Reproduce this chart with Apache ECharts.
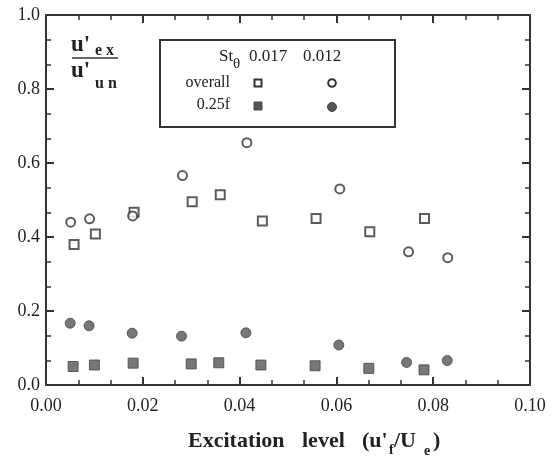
<!DOCTYPE html>
<html>
<head>
<meta charset="utf-8">
<script src="https://cdn.jsdelivr.net/npm/echarts@6/dist/echarts.min.js"></script>
<style>
  html, body { margin: 0; padding: 0; background: #fff; }
  #chart { width: 554px; height: 458px; }
</style>
</head>
<body>
<div id="chart"></div>
<script>
// values
const xTicks = [0, 0.02, 0.04, 0.06, 0.08, 0.10];
const yTicks = [0, 0.2, 0.4, 0.6, 0.8, 1.0];

const overall017 = [
  [0.0058, 0.380], [0.0102, 0.408], [0.0182, 0.467], [0.0302, 0.495], [0.0360, 0.514],
  [0.0447, 0.443], [0.0558, 0.450], [0.0669, 0.414], [0.0782, 0.450]
];
const overall012 = [
  [0.0051, 0.440], [0.0090, 0.449], [0.0179, 0.457], [0.0282, 0.566], [0.0415, 0.655],
  [0.0607, 0.530], [0.0749, 0.360], [0.0830, 0.344]
];
const quarter017 = [
  [0.0056, 0.050], [0.0100, 0.054], [0.0180, 0.059], [0.0300, 0.057], [0.0357, 0.060],
  [0.0444, 0.054], [0.0556, 0.052], [0.0667, 0.045], [0.0781, 0.041]
];
const quarter012 = [
  [0.0050, 0.167], [0.0089, 0.160], [0.0178, 0.140], [0.0280, 0.132], [0.0413, 0.141],
  [0.0605, 0.108], [0.0745, 0.061], [0.0829, 0.066]
];

const serif = '"Liberation Serif", "DejaVu Serif", serif';
const ink = '#333';
const fillGray = '#555';

const chart = echarts.init(document.getElementById('chart'));

function axisBase(show) {
  return {
    type: 'value',
    min: 0,
    interval: 0.02,
    axisLine: { show: true, onZero: false, lineStyle: { color: ink, width: 2 } },
    axisTick: { show: true, inside: true, length: 8, lineStyle: { color: ink, width: 2 } },
    minorTick: { show: true, splitNumber: 3, length: 5, lineStyle: { color: ink, width: 1.5 } },
    splitLine: { show: false },
    axisLabel: { show: show }
  };
}

const xBottom = Object.assign(axisBase(true), {
  max: 0.1,
  position: 'bottom',
  axisLabel: {
    show: true, fontFamily: serif, fontSize: 18, color: '#222', margin: 12,
    formatter: v => v.toFixed(2)
  }
});
const xTop = Object.assign(axisBase(false), { max: 0.1, position: 'top' });

const yLeft = Object.assign(axisBase(true), {
  max: 1.0,
  interval: 0.2,
  position: 'left',
  axisLabel: {
    show: true, fontFamily: serif, fontSize: 18, color: '#222', margin: 6,
    formatter: v => v.toFixed(1)
  }
});
const yRight = Object.assign(axisBase(false), { max: 1.0, interval: 0.2, position: 'right' });

const openStyle = { color: '#fff', borderColor: ink, borderWidth: 2 };
const fillStyle = { color: fillGray, borderColor: '#444', borderWidth: 1 };

function txt(x, y, s, font, extra) {
  return { type: 'text', x: x, y: y,
    style: Object.assign({ text: s, font: font, fill: '#222', verticalAlign: 'middle' }, extra || {}) };
}

// legend box (drawn as graphics to copy the table layout)
const legendGraphics = [
  { type: 'rect', shape: { x: 160, y: 40, width: 235, height: 87 },
    style: { fill: 'none', stroke: ink, lineWidth: 2 } },
  txt(219, 57, 'St', '17px ' + serif),
  txt(233, 64, 'θ', '15px ' + serif),
  txt(249, 57, '0.017', '17px ' + serif),
  txt(303, 57, '0.012', '17px ' + serif),
  txt(230, 83, 'overall', '16px ' + serif, { align: 'right' }),
  txt(230, 105, '0.25f', '16px ' + serif, { align: 'right' }),
  { type: 'rect', shape: { x: 254.5, y: 79.5, width: 7, height: 7 }, style: { fill: '#fff', stroke: ink, lineWidth: 2 } },
  { type: 'circle', shape: { cx: 332, cy: 83, r: 3.8 }, style: { fill: '#fff', stroke: ink, lineWidth: 2 } },
  { type: 'rect', shape: { x: 254, y: 102, width: 8, height: 8 }, style: { fill: fillGray, stroke: '#444', lineWidth: 1 } },
  { type: 'circle', shape: { cx: 332, cy: 107, r: 4.5 }, style: { fill: fillGray, stroke: '#444', lineWidth: 1 } }
];

// y axis label written as a fraction u'ex / u'un
const yLabelGraphics = [
  txt(71, 45, "u'", 'bold 23px ' + serif),
  txt(95, 51, 'e x', 'bold 16px ' + serif),
  { type: 'line', shape: { x1: 72, y1: 58, x2: 118, y2: 58 }, style: { stroke: ink, lineWidth: 1.5 } },
  txt(71, 71, "u'", 'bold 23px ' + serif),
  txt(95, 84, 'u n', 'bold 16px ' + serif)
];

// x axis title with subscripts
const tf = 'bold 22px ' + serif;
const xTitleGraphics = [
  txt(188, 441, 'Excitation', tf),
  txt(302, 441, 'level', tf),
  txt(362, 441, "(u'", tf),
  txt(389, 450, 'f', 'bold 14px ' + serif),
  txt(394, 441, '/U', tf),
  txt(424, 451, 'e', 'bold 14px ' + serif),
  txt(433, 441, ')', tf)
];

const option = {
  animation: false,
  backgroundColor: '#fff',
  grid: { left: 46, right: 24, top: 15, bottom: 73 },
  xAxis: [xBottom, xTop],
  yAxis: [yLeft, yRight],
  series: [
    { name: 'overall 0.017', type: 'scatter', symbol: 'rect', symbolSize: 9, data: overall017, itemStyle: openStyle },
    { name: 'overall 0.012', type: 'scatter', symbol: 'circle', symbolSize: 9, data: overall012, itemStyle: openStyle },
    { name: '0.25f 0.017', type: 'scatter', symbol: 'rect', symbolSize: 10, data: quarter017, itemStyle: fillStyle },
    { name: '0.25f 0.012', type: 'scatter', symbol: 'circle', symbolSize: 10, data: quarter012, itemStyle: fillStyle }
  ],
  graphic: legendGraphics.concat(yLabelGraphics, xTitleGraphics)
};

chart.setOption(option);
</script>
</body>
</html>
